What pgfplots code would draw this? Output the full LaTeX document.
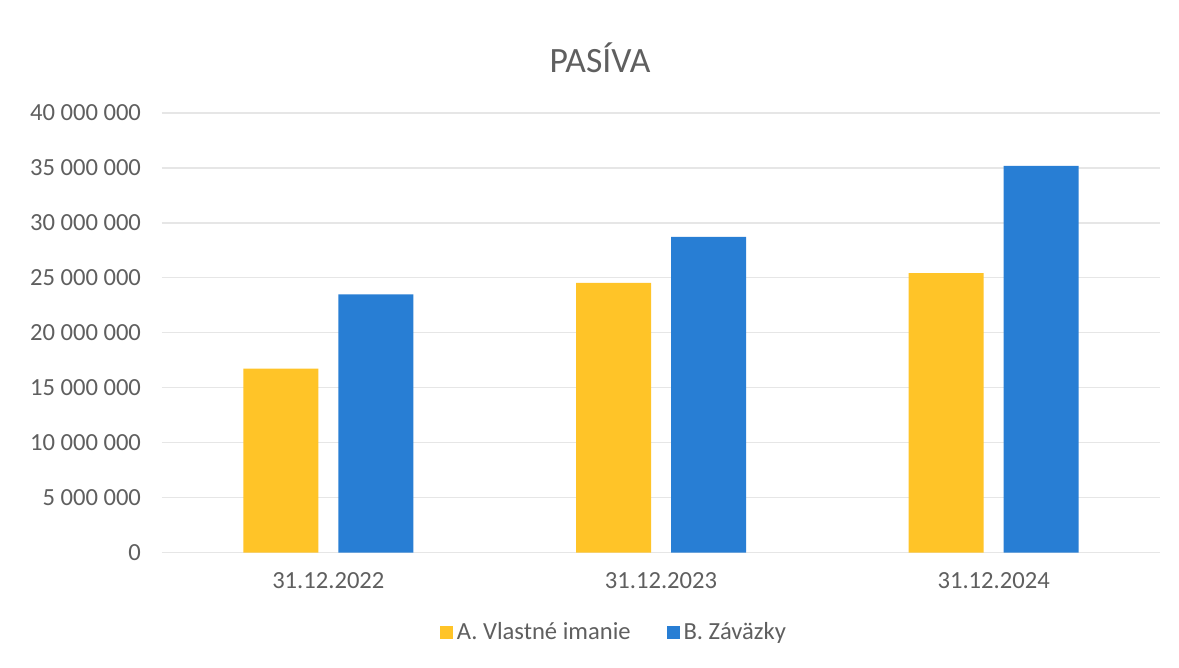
\documentclass[border=0pt]{standalone}
\usepackage{fontspec}
\setmainfont{Carlito}
\usepackage{pgfplots}
\pgfplotsset{compat=1.18}

\definecolor{txtgray}{RGB}{95,95,95}
\definecolor{gridgray}{RGB}{230,230,230}
\definecolor{barA}{RGB}{255,196,40}
\definecolor{barB}{RGB}{40,126,212}

\begin{document}
\begin{tikzpicture}
\path[use as bounding box, fill=white] (0,0) rectangle (589.5pt,334pt);
\node[text=txtgray, font=\fontsize{17.8}{20}\selectfont] at (300pt,305pt) {PASÍVA};
\begin{axis}[
    at={(81pt,57.65pt)}, anchor=south west,
    scale only axis,
    width=499pt, height=219.85pt,
    ybar, bar width=37.5pt,
    xmin=-0.5, xmax=2.5,
    ymin=0, ymax=40000000,
    ytick={0,5000000,...,40000000},
    xtick=data,
    xticklabels={31.12.2022,31.12.2023,31.12.2024},
    scaled y ticks=false,
    /pgf/number format/.cd, fixed, 1000 sep={\ }, assume math mode=true,
    /pgfplots/.cd,
    axis line style={draw=none},
    major tick length=0pt,
    ymajorgrids, grid style={gridgray, line width=0.6pt},
    ticklabel style={text=txtgray, font=\fontsize{12.3}{14}\selectfont},
    yticklabel style={xshift=-7pt},
    xticklabel style={yshift=-6.5pt},
    legend columns=2,
    legend style={at={(0.454,-0.182)}, anchor=center, draw=none,
        font=\fontsize{12.3}{14}\selectfont, text=txtgray,
        /tikz/every even column/.append style={column sep=16pt}},
    legend image code/.code={\fill[#1] (0pt,-3.2pt) rectangle (6.4pt,3.2pt);},
]
\addplot[fill=barA, draw=none, bar shift=-23.75pt] coordinates {(0,16750000) (1,24540000) (2,25430000)};
\addplot[fill=barB, draw=none, bar shift=23.75pt] coordinates {(0,23490000) (1,28730000) (2,35200000)};
\legend{A. Vlastné imanie, B. Záväzky}
\end{axis}
\end{tikzpicture}
\end{document}
